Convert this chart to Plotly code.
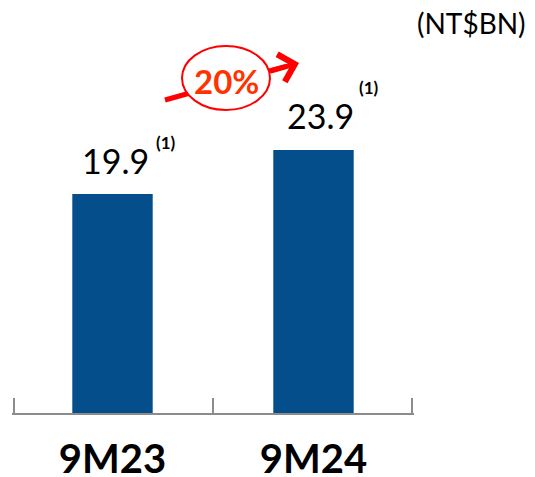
import plotly.graph_objects as go

categories = ["9M23", "9M24"]
values = [19.9, 23.9]
value_labels = ["19.9", "23.9"]
note_marks = ["(1)", "(1)"]
growth_label = "20%"
unit_label = "(NT$BN)"
boundaries = [-0.5, 0.5, 1.5]

# page body adds an 8px margin; work in screen pixels and convert
OFF = 8
SW, SH = 535, 477
W, H = SW - OFF, SH - OFF
PLOT_L, PLOT_R, PLOT_T, PLOT_B = 12, 414, 40, 413   # screen pixels
ML, MR, MT, MB = PLOT_L - OFF, W - (PLOT_R - OFF), PLOT_T - OFF, H - (PLOT_B - OFF)
PW = PLOT_R - PLOT_L
PH = PLOT_B - PLOT_T
PX_PER_UNIT = 11.0
YMAX = PH / PX_PER_UNIT

def paper(px, py):
    return (px - PLOT_L) / PW, (PLOT_B - py) / PH

FONT = "Lato"
BAR_COLOR = "#044E8C"
AXIS_COLOR = "#8C8C8C"

fig = go.Figure()
fig.add_trace(go.Bar(x=categories, y=values, marker=dict(color=BAR_COLOR, line=dict(width=0)),
                     width=0.4, hoverinfo="skip"))
fig.add_trace(go.Scatter(x=[None], y=[None], xaxis="x2", yaxis="y", mode="markers",
                         hoverinfo="skip", showlegend=False))

annotations = []
label_shift = [(3, 34), (7, 35)]
note_shift = [(53, 52), (55, 63)]
for i, (c, v) in enumerate(zip(categories, values)):
    annotations.append(dict(x=c, y=v, xref="x", yref="y", text=value_labels[i], showarrow=False,
                            xanchor="center", yanchor="middle", xshift=label_shift[i][0],
                            yshift=label_shift[i][1],
                            font=dict(family=FONT, size=34, color="#000000")))
    annotations.append(dict(x=c, y=v, xref="x", yref="y", text="<b>" + note_marks[i] + "</b>",
                            showarrow=False, xanchor="center", yanchor="middle",
                            xshift=note_shift[i][0], yshift=note_shift[i][1],
                            font=dict(family=FONT, size=17, color="#000000")))

# unit label
ux, uy = paper(471, 23)
annotations.append(dict(x=ux, y=uy, xref="paper", yref="paper", text=unit_label, showarrow=False,
                        xanchor="center", yanchor="middle",
                        font=dict(family=FONT, size=28, color="#000000")))

# growth arrow: body line, ellipse badge, arrowhead
x0, y0 = paper(165, 100)
x1, y1 = paper(286, 66.3)
ex0, ey0 = paper(182, 110)
ex1, ey1 = paper(270, 46)
shapes = [
    dict(type="line", xref="paper", yref="paper", x0=x0, y0=y0, x1=x1, y1=y1,
         line=dict(color="#FF0000", width=5)),
    dict(type="circle", xref="paper", yref="paper", x0=ex0, y0=ey0, x1=ex1, y1=ey1,
         fillcolor="#FFFFFF", line=dict(color="#FF0000", width=2)),
]
hx, hy = paper(299, 63)
annotations.append(dict(x=hx, y=hy, xref="paper", yref="paper", text="", showarrow=True,
                        ax=-30, ay=8.4, axref="pixel", ayref="pixel",
                        arrowhead=4, arrowsize=1.1, arrowwidth=5, arrowcolor="#FF0000",
                        standoff=0, startstandoff=0))
gx, gy = paper(227, 81)
annotations.append(dict(x=gx, y=gy, xref="paper", yref="paper", text="<b>" + growth_label + "</b>",
                        showarrow=False, xanchor="center", yanchor="middle",
                        font=dict(family=FONT, size=33, color="#FF3300")))

fig.update_layout(
    width=W, height=H,
    margin=dict(l=ML, r=MR, t=MT, b=MB, pad=0),
    paper_bgcolor="#FFFFFF", plot_bgcolor="#FFFFFF",
    showlegend=False,
    annotations=annotations,
    shapes=shapes,
    xaxis=dict(type="category", range=[-0.5, 1.5], showgrid=False, zeroline=False,
               automargin=False, showline=False, ticks="", ticklabelstandoff=19,
               tickfont=dict(family=FONT, size=40, color="#000000"),
               tickprefix="<b>", ticksuffix="</b>", fixedrange=True),
    xaxis2=dict(overlaying="x", anchor="y", side="bottom", range=[-0.512, 1.512],
                showgrid=False, zeroline=False, automargin=False,
                showline=True, linecolor=AXIS_COLOR, linewidth=2,
                tickmode="array", tickvals=boundaries, showticklabels=False,
                ticks="inside", ticklen=15, tickwidth=2, tickcolor=AXIS_COLOR,
                fixedrange=True),
    yaxis=dict(range=[0, YMAX], visible=False, automargin=False, showgrid=False,
               zeroline=False, fixedrange=True),
)

fig.write_html("out.html")
